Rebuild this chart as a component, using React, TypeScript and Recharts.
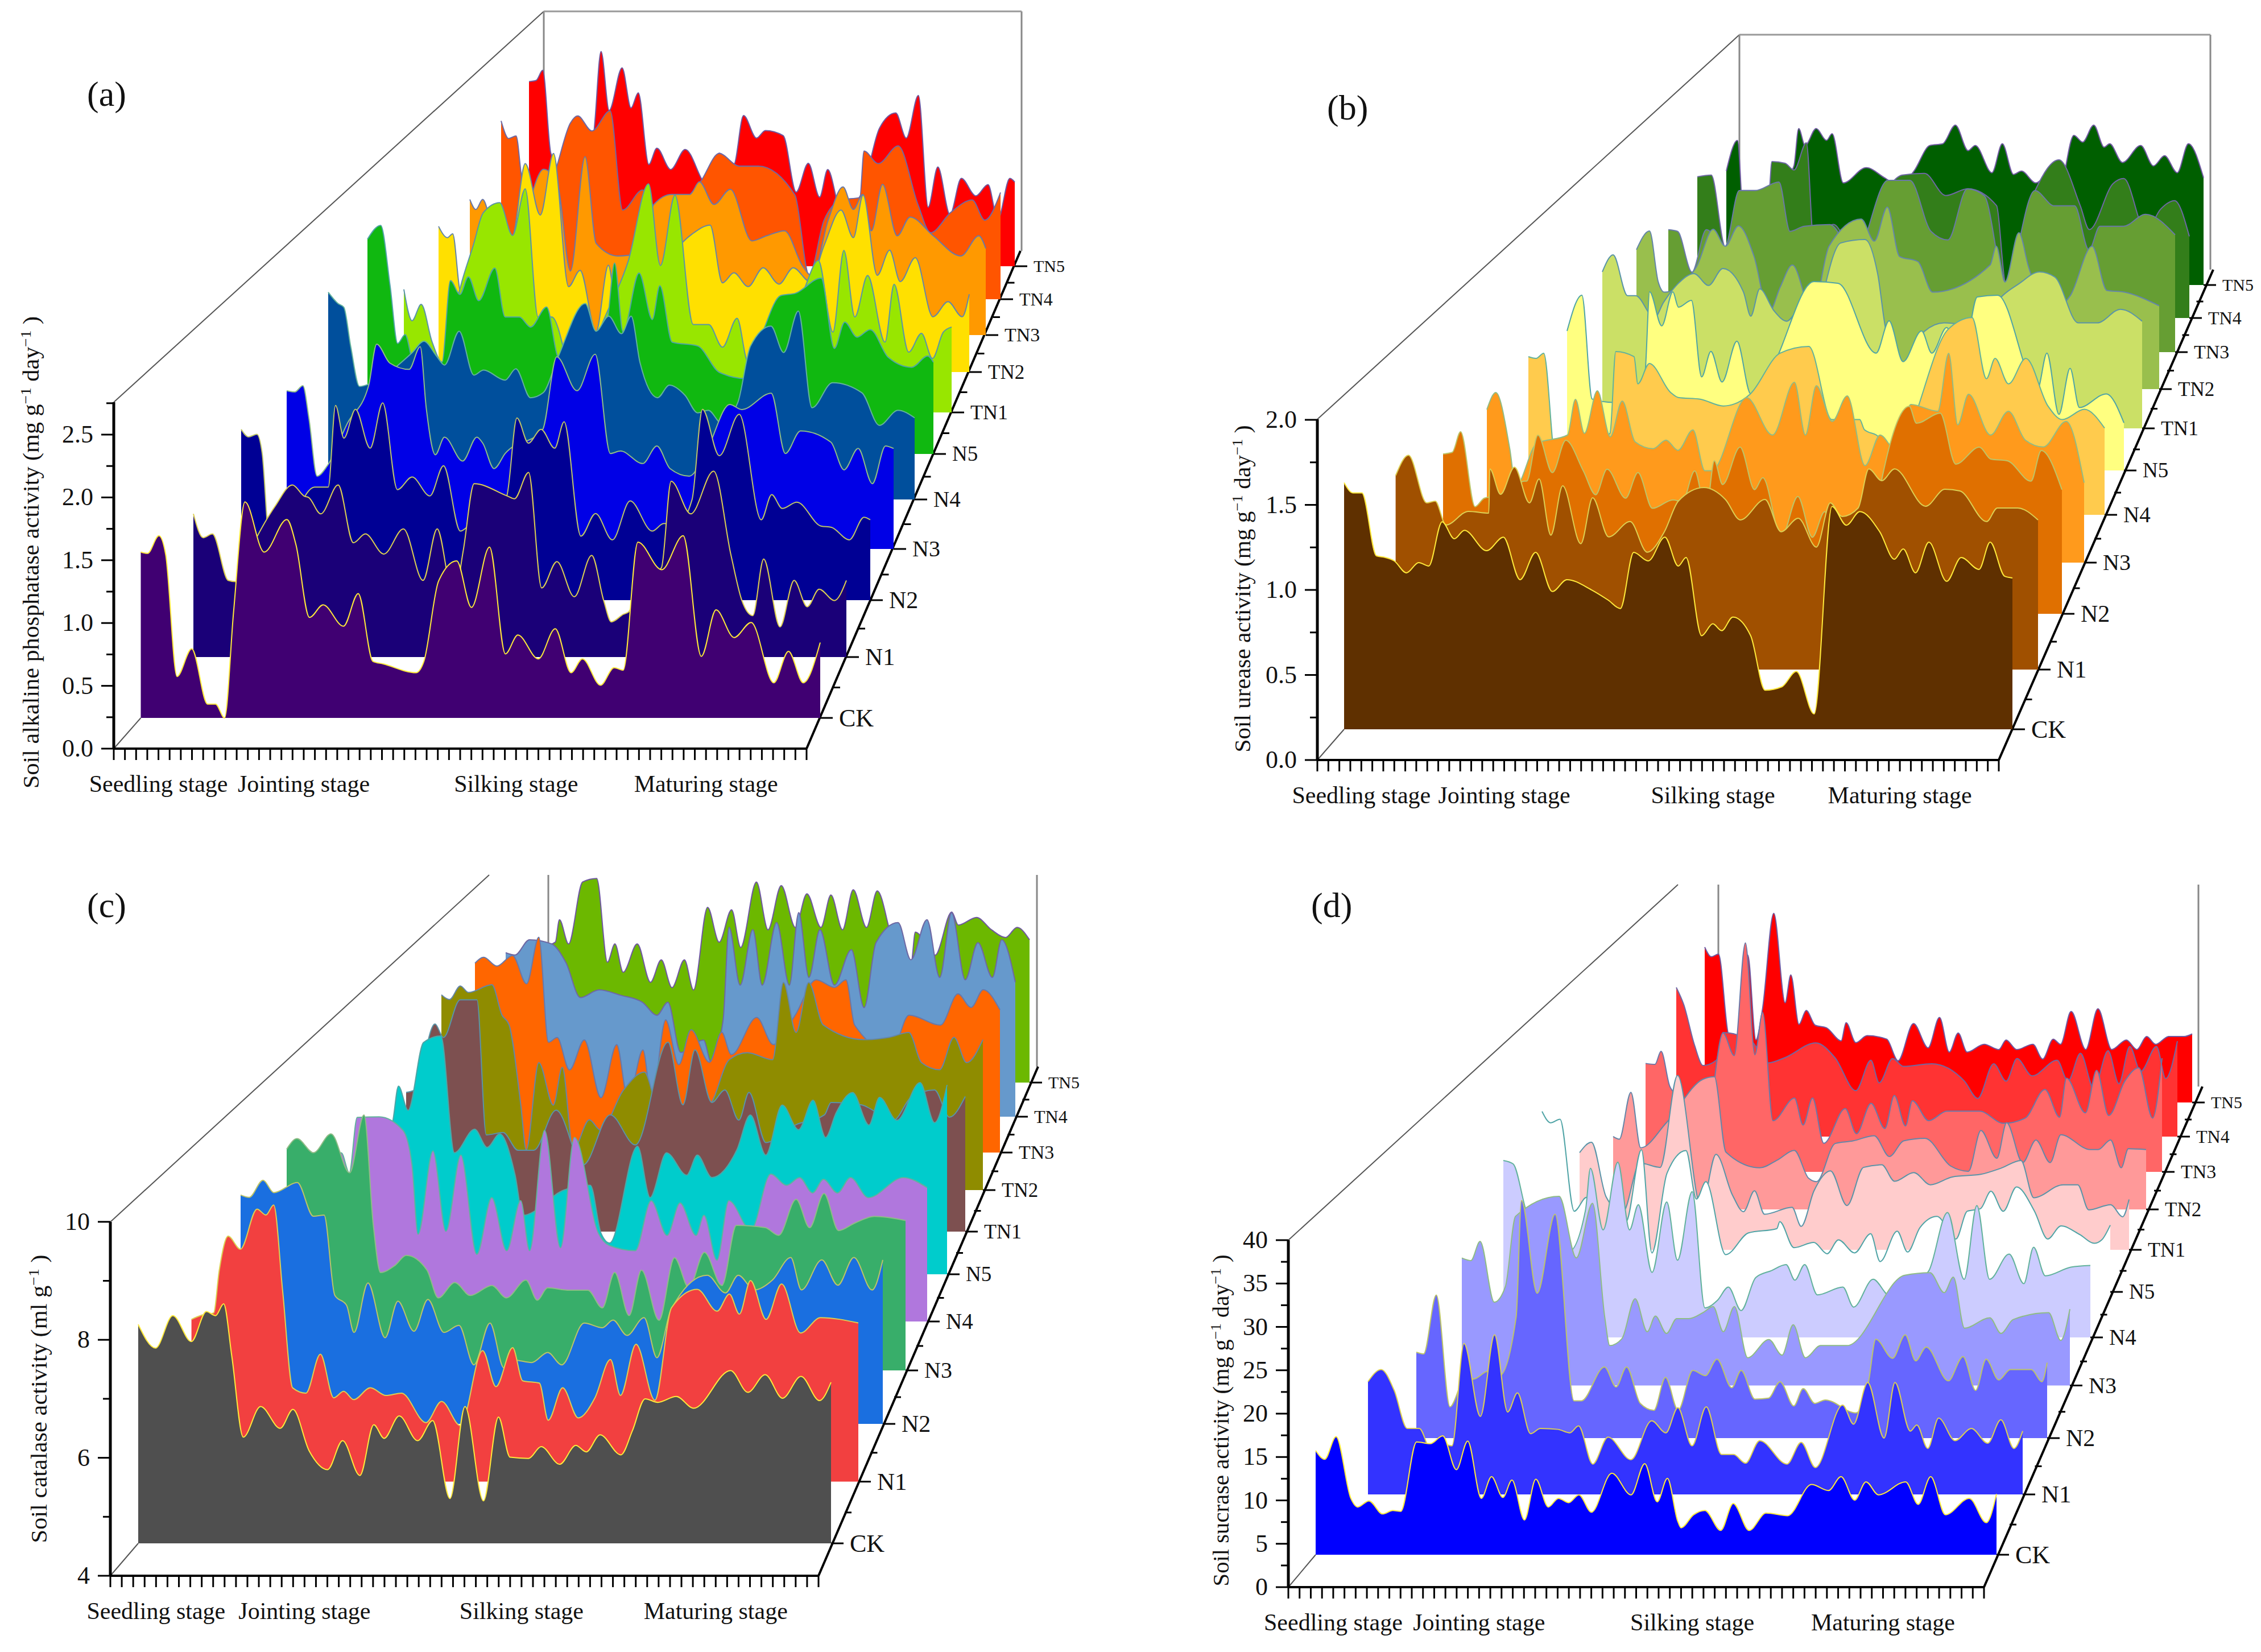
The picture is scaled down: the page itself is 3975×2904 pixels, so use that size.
import { Area, ComposedChart, ReferenceLine, XAxis, YAxis } from 'recharts'

const SERIES = ['CK', 'N1', 'N2', 'N3', 'N4', 'N5', 'TN1', 'TN2', 'TN3', 'TN4', 'TN5']
const STAGES: Record<number, string> = { 4: 'Seedling stage', 17: 'Jointing stage', 36: 'Silking stage', 53: 'Maturing stage' }
const TICK_COUNT = 62
const SERIF = '"Liberation Serif", "Times New Roman", serif'

// [day, value], one list per treatment
const aCK = [[0,1.32],[.6,1.31],[1.6,1.45],[2.2,1.3],[3.2,.33],[4.5,.55],[5.9,.11],[6.6,.11],[7.4,0],[8.2,.85],[9.2,1.72],[10.9,1.32],[12.9,1.58],[13.7,1.38],[14.9,.8],[16.1,.9],[17.9,.73],[19.2,.99],[20.5,.45],[21.4,.43],[24.3,.36],[25,.45],[26.3,1.09],[27.9,1.25],[29.2,.88],[30.8,1.36],[32.2,.51],[33.3,.66],[35.1,.47],[36.6,.71],[38,.36],[39,.47],[40.6,.26],[41.8,.4],[42.6,.38],[43.9,1.4],[46,1.18],[47.9,1.45],[49.5,.49],[50.8,.86],[52.4,.64],[53.9,.76],[55.9,.28],[57.2,.53],[58.5,.28],[60,.6]]
const aN1 = [[0,1.14],[.9,.95],[1.75,.98],[3.2,.61],[3.9,.6],[5.5,.9],[7.5,1.2],[9.1,1.37],[10.2,1.28],[10.6,1.27],[11.7,1.14],[13.3,1.37],[14.7,.91],[15.8,.98],[17.5,.82],[19.3,1.02],[21.1,.61],[22.4,1.02],[23.3,.67],[23.8,.4],[24.8,.85],[25.8,1.38],[28.9,1.28],[29.5,1.26],[30.8,1.47],[32,.55],[33.4,.76],[35,.48],[36.6,.81],[37.7,.45],[38.4,.28],[39.5,.34],[40,.36],[41,.6],[43,.71],[43.9,1.4],[45.7,1.14],[47.8,1.48],[49.4,.81],[50.4,.45],[51.4,.33],[52.4,.78],[53.9,.24],[55.2,.61],[56.4,.4],[57.5,.54],[58.9,.45],[60,.61]]
const aN2 = [[0,1.36],[.7,1.3],[1.5,1.32],[2,1.17],[2.7,.48],[4.5,.6],[7,.9],[8.3,.9],[9,1.55],[9.8,1.29],[10.9,1.52],[12.3,1.21],[13.5,1.57],[14.9,.88],[16.3,.98],[18,.83],[19.3,1.07],[20.9,.55],[21.8,.6],[23.5,.7],[25.3,.82],[26.3,1.45],[27.4,1.25],[28.6,1.36],[29.9,1.21],[30.8,1.42],[32.4,.51],[33.8,.69],[35.4,.48],[37.1,.79],[39.2,.55],[40.3,.61],[41.6,.6],[43,.8],[44,1.52],[45.6,1.15],[47.5,1.48],[49.6,.64],[50.6,.84],[51.6,.73],[53,.78],[55.3,.59],[56.3,.58],[58,.48],[59.4,.66],[60,.64]]
const aN3 = [[0,1.26],[.8,1.25],[1.6,1.3],[2.2,1.04],[3,.58],[4,.66],[6,1],[8.1,1.3],[8.9,1.63],[10.2,1.48],[12.1,1.43],[13.2,1.61],[13.8,1.12],[14.7,.75],[15.6,.89],[17.4,.7],[18.8,.89],[19.4,.84],[20.5,.64],[21.6,.76],[25.3,.95],[26.7,1.53],[28.7,1.26],[30.5,1.55],[32,.76],[33,.78],[35.2,.68],[36.6,.82],[37.9,.64],[39.8,.58],[41.6,.8],[43.8,1.15],[45,1.11],[47.9,1.24],[49.3,.76],[50.8,.94],[53.8,.85],[55.1,.63],[56.5,.8],[57.9,.52],[59.2,.82],[60,.8]]
const aN4 = [[0,1.65],[1,1.56],[1.6,1.53],[2.3,1.22],[3.2,.9],[4.2,.92],[6,1],[8.6,1.17],[9.8,1.26],[11.1,1.14],[11.9,1.07],[13.4,1.34],[14.9,.99],[15.9,1.03],[18.1,.95],[19.2,1.04],[20.7,.81],[22,.85],[23.5,1.13],[26.3,1.56],[27.4,1.34],[28.7,1.46],[30,1.32],[31,1.46],[31.9,1.09],[33.7,.81],[34.9,.91],[36.5,.83],[37.8,.69],[38.9,.71],[40.2,.61],[41.9,.77],[43.2,1.22],[45.3,1.38],[46.6,1.17],[48.1,1.5],[49.5,.73],[51.6,.93],[54.6,.85],[56.4,.59],[58.3,.71],[60,.65]]
const aN5 = [[0,1.71],[1.4,1.82],[2.4,1.34],[3.2,.88],[4,.95],[4.9,.73],[6.3,.73],[7.9,.73],[8.8,1.38],[9.8,1.27],[10.7,1.41],[11.8,1.22],[13.5,1.48],[14.6,1.09],[16.1,1.09],[17.3,1.01],[19,1.17],[20.2,.77],[22.3,.65],[25.4,1.05],[26.2,1.52],[27.1,.97],[28.8,1.44],[30.2,1.07],[31,1.34],[32.3,.89],[35,.86],[37.3,.65],[40.1,.6],[41.9,.97],[43.8,1.26],[45.4,1.28],[48.1,1.4],[49.5,.84],[50.6,1.05],[51.9,.93],[53.3,.99],[55.2,.77],[57.7,.69],[59.4,.78],[60,.73]]
const aTN1 = [[0,.98],[.9,.73],[1.9,.86],[3.1,.56],[4.2,.4],[5.3,.72],[6.2,1],[7.6,1.33],[8.7,1.59],[10.5,1.67],[11.9,1.41],[13.3,1.78],[14.7,.76],[16.2,.76],[19,.19],[21.8,.72],[24.6,1.21],[26.8,1.82],[28.1,1.17],[29.7,1.73],[31.7,.7],[33.4,.7],[34.9,.52],[36.5,.75],[37.7,.4],[40.4,.64],[43.6,.94],[45.4,1.21],[47,.64],[48.2,1.29],[49.4,.76],[50.8,1.09],[52.7,.56],[53.7,1.02],[55.3,.48],[56.7,.63],[57.9,.43],[59.1,.64],[60,.68]]
const aTN2 = [[0,1.16],[1,1.07],[1.6,1.1],[2.5,.64],[6.7,.81],[8.6,1.13],[9.8,1.66],[11.5,1.25],[13,1.74],[14.7,.68],[16,.81],[17.8,.32],[19.2,.85],[20.3,.4],[21.5,.6],[25.2,.85],[28.5,1.09],[30.7,1.17],[32.1,.71],[33.4,.79],[35,.68],[36.7,.83],[38.5,.7],[40.1,.83],[42,.72],[43.6,1.01],[45.5,1.29],[46.9,1.07],[48,1.41],[49.6,.77],[51,.97],[52.2,.72],[53.9,.91],[55.9,.44],[57.6,.56],[59.2,.44],[60,.62]]
const aTN3 = [[0,1.08],[.7,1],[1.5,1.08],[2.4,.92],[5,.71],[8.6,1.32],[10.2,1.2],[11.7,.51],[13.4,1.42],[14.7,.73],[17.2,.63],[19.7,.65],[21.4,1.04],[23.5,1.12],[25.6,1.12],[26.7,1.22],[28.4,1.04],[30.3,1.16],[32.8,.75],[34.5,.79],[36.6,.83],[38.7,.55],[39.8,.47],[41.7,.92],[43.4,1.18],[44.6,1],[45.7,1.12],[46.7,.83],[48,1.2],[49.7,.79],[51.2,.94],[53.9,.79],[57.1,.63],[59.2,.79],[60,.69]]
const aTN4 = [[0,1.42],[.9,1.28],[1.8,1.3],[2.5,.96],[4.6,.67],[6.6,1.04],[8.3,1.4],[9.2,1.46],[10.9,1.34],[13.1,1.5],[14.6,.71],[17,.87],[19.2,.59],[21.6,.75],[24,.94],[26.2,1.16],[28.6,1.06],[30.9,1.06],[35.3,.83],[37,.19],[38.8,.63],[40.9,.79],[43.1,.81],[43.6,1.18],[45.3,1.08],[47.7,1.22],[50.1,.75],[51.6,.53],[54,.69],[56.6,.79],[58.1,.63],[60,.85]]
const aTN5 = [[0,1.47],[.9,1.48],[1.7,1.56],[2.7,.9],[4,.77],[4.9,.77],[7.9,1.02],[8.9,1.71],[9.9,1.24],[11.5,1.58],[12.6,1.26],[13.5,1.38],[14.8,.81],[15.8,.94],[17.5,.77],[19.3,.93],[22,.65],[23.5,.9],[25.3,.81],[26.5,1.2],[28.1,1.02],[29.2,1.08],[31.4,1.04],[33,.59],[34.5,.82],[35.9,.55],[36.9,.77],[38.6,.43],[41,.57],[43.3,1.1],[45.3,1.22],[46.6,1.02],[48.1,1.36],[49.3,.47],[50.5,.79],[52,.41],[53.4,.7],[55.2,.56],[56.7,.65],[57.9,.37],[59.4,.7],[60,.67]]

const bCK = [[0,1.45],[.8,1.39],[1.6,1.39],[2.9,1.02],[3.7,1.01],[4.5,.99],[5.6,.92],[6.7,.98],[7.6,.96],[8.8,1.22],[9.9,1.12],[10.8,1.17],[12.8,1.05],[14.3,1.13],[15.8,.88],[17.2,1.04],[18.7,.81],[20,.88],[22.2,.82],[23.7,.76],[24.8,.71],[26,1.04],[27.3,.99],[28.8,1.13],[30,.96],[30.7,1.01],[32.1,.55],[33.1,.62],[33.9,.58],[34.9,.66],[36.5,.55],[37.8,.23],[39.3,.25],[40.6,.34],[42.2,.09],[43.8,1.31],[45.1,1.2],[46.3,1.28],[48.1,1.16],[49.4,1],[50.2,1.06],[51.3,.92],[52.5,1.1],[54.1,.87],[55.4,1.01],[57,.94],[58,1.1],[59.3,.9],[60,.89]]
const bN1 = [[0,1.14],[1.2,1.26],[2.9,.98],[3.7,.99],[4.7,.85],[6.8,.93],[8.7,.92],[8.8,1.18],[9.8,1.03],[11.1,1.19],[12.5,.98],[13.4,1.12],[14.5,.79],[15.6,1.08],[17.3,.74],[18.4,1.01],[19.9,.78],[21.9,.87],[23.5,.69],[25.1,.81],[26.4,.99],[28.8,1.07],[30.8,1],[32.2,.88],[34.5,1],[36,.81],[37.6,.89],[39.3,.72],[40.6,.98],[41.7,.9],[43.2,.95],[44.2,1.18],[45.4,1.11],[46.6,1.18],[49.5,.96],[51.3,1.06],[52.7,1.05],[55.2,.87],[56.2,.95],[58.1,.95],[60,.88]]
const bN2 = [[0,.94],[.9,.95],[1.7,1.07],[3.1,.63],[4,.68],[6,.7],[7.9,.78],[8.1,.78],[9.2,1.05],[10.6,.83],[11.9,1.02],[13.6,.84],[14.8,.7],[15.9,.85],[17.7,.68],[18.9,.83],[20.3,.62],[22.3,.67],[23.2,.66],[24.4,.84],[25.5,.6],[26.3,.9],[27.1,.76],[28.8,.98],[30.2,.73],[31,.8],[32.8,.45],[34.4,.69],[35.8,.45],[37,.6],[38.1,.44],[40,.6],[41.8,.55],[42.5,.78],[45.2,1.22],[45.9,1.12],[48.2,1.18],[49.7,.88],[52,.98],[53.1,.91],[54.7,.9],[57,.78],[58,.96],[60,.73]]
const bN3 = [[0,.9],[.9,1],[2.3,.67],[2.9,.45],[5,.7],[8.1,.75],[8.9,.96],[9.8,.76],[11.1,1.01],[12.4,.74],[13.6,.95],[14.9,.71],[16.7,.67],[18,.72],[19.2,.66],[20.7,.78],[21.9,.54],[22.6,.54],[26.1,.97],[28.7,.75],[30.9,1.06],[32,.75],[33.1,1.04],[34.7,.83],[36.2,.98],[38,.57],[39.5,.75],[41.1,.66],[42.6,.93],[45.3,.89],[46.4,1.23],[47.3,.81],[48.4,.99],[50.6,.75],[52.4,.89],[54.1,.72],[55.9,.68],[58.2,.83],[60,.47]]
const bN4 = [[0,.93],[.8,.92],[1.6,.95],[2.9,.29],[5,.38],[8.5,.48],[9.1,.96],[11,.93],[11.4,.77],[12.6,.89],[14.8,.72],[15.6,.69],[17.9,.68],[20.3,.64],[23.1,.71],[26.2,.95],[29.2,.99],[31.6,.56],[34.5,.56],[35,.5],[36.2,.47],[38.2,.38],[43.7,1.09],[46.2,1.16],[47.7,.8],[48.6,.92],[50,.77],[51.8,.92],[54.1,.64],[55.6,.56],[57.9,.62],[60,.51]]
const bN5 = [[0,.82],[1.6,1.03],[2.7,.42],[5,.4],[8,.5],[8.4,.57],[8.9,1.05],[10.2,.85],[11.4,1.05],[12,.96],[13.4,1],[14.5,.55],[15.5,.7],[16.7,.52],[18.3,.76],[19.8,.45],[22,.6],[26.6,1.11],[29.2,1.1],[33.3,.69],[34.7,.88],[36.2,.64],[38.2,.82],[39.3,.69],[40.9,.84],[42.5,.6],[44.2,1.02],[46.4,1.03],[50.7,.48],[51.7,.69],[53,.33],[54.2,.6],[55.2,.37],[58.1,.45],[60,.28]]
const bTN1 = [[0,.92],[1.2,1.02],[2.8,.78],[3.7,.78],[5.8,.65],[6.8,.74],[8.4,.85],[10.2,.91],[11.8,.84],[13.4,.94],[15.7,.8],[16.5,.66],[17.5,.82],[19.1,.69],[20.5,.63],[22.1,.71],[22.7,.53],[26.5,1.09],[29.2,1.11],[30.6,.91],[31.6,.56],[33.6,.39],[35.8,.57],[38,.62],[42,.6],[44.3,.77],[46.3,.85],[48.6,.92],[50.3,.89],[52.9,.62],[55,.62],[57.6,.7],[60,.63]]
const bTN2 = [[0,.82],[1.5,.93],[2.5,.63],[3.2,.57],[6.9,.72],[8.8,.94],[10.2,.84],[11.7,.96],[13.5,.78],[15.2,.45],[16.5,.6],[17.9,.73],[20.2,.45],[22.1,.84],[25.8,1],[27.3,.87],[28.8,1.07],[30.2,.78],[32.3,.75],[34,.57],[40.6,.73],[41.3,.84],[42.3,.63],[43.9,.92],[45,.72],[47.3,.46],[49.8,.55],[52.3,.84],[54,.58],[56,.57],[60,.49]]
const bTN3 = [[0,.72],[1.1,.71],[2.8,.47],[4.5,.72],[6.7,.62],[8.4,.95],[10.3,.95],[13.1,1],[14.4,.71],[16.1,.74],[19.1,.75],[22.1,.57],[26,1.01],[28.6,1.01],[31.1,.71],[33.1,.66],[35.4,.96],[37.4,.92],[39.9,.4],[43.4,.95],[45.7,.86],[48.1,.86],[49.8,.6],[51.1,.74],[53.9,.74],[56.5,.81],[60,.69]]
const bTN4 = [[0,.83],[1.7,.84],[3.4,.42],[5.3,.75],[7.1,.75],[8.7,.72],[9.1,.92],[10.7,.91],[11.8,.87],[13.3,1.03],[14.2,.45],[16.6,.55],[19.3,.37],[22,.66],[25,.84],[27.7,.85],[30.3,.72],[33,.76],[36.5,.66],[37.6,.21],[41.2,.75],[44.1,.93],[46.7,.66],[47.8,.52],[50.7,.79],[52,.82],[54.7,.51],[56.5,.64],[58.2,.69],[60,.48]]
const bTN5 = [[0,.67],[1.4,.85],[2.3,.28],[8.5,.7],[9.1,.92],[9.9,.82],[11.3,.92],[12.6,.85],[13.3,.89],[14.7,.6],[17.6,.69],[19.9,.63],[21.8,.58],[23.6,.67],[25.6,.82],[27.2,.83],[28.8,.94],[30.4,.79],[31.3,.82],[33.4,.66],[34.7,.83],[36.1,.65],[37.1,.67],[38.9,.6],[40.9,.67],[41.8,.55],[43.7,.88],[44.8,.84],[46.2,.94],[47.5,.81],[48.2,.83],[49.8,.72],[52.1,.82],[53.7,.7],[55.1,.76],[56.7,.66],[58.1,.83],[60,.63]]

const cCK = [[0,7.71],[1.5,7.31],[3,7.86],[4.6,7.42],[5.9,7.93],[6.7,7.86],[7.4,8.06],[8.1,7.18],[9.1,5.8],[10.6,6.32],[12.3,5.95],[13.4,6.27],[14.8,5.57],[16.4,5.25],[17.7,5.74],[19.2,5.15],[20.4,6.01],[21.3,5.78],[22.6,6.16],[24.2,5.74],[25.5,6.08],[27,4.76],[28.3,6.32],[29.9,4.72],[31.2,6.14],[32.2,5.46],[33.8,5.44],[34.9,5.64],[36.5,5.34],[37.9,5.66],[38.8,5.55],[40,5.84],[41.8,5.5],[42.8,5.91],[43.9,6.45],[45,6.39],[46.6,6.49],[48.1,6.29],[51.3,6.93],[52.8,6.56],[54.3,6.86],[55.8,6.46],[57.4,6.83],[59,6.42],[60,6.73]]
const cN1 = [[0,6.75],[.9,6.82],[2,6.86],[2.5,7.58],[3.3,8.16],[4.4,7.94],[5.9,8.62],[6.7,8.52],[7.4,8.69],[8.2,7.24],[9.1,5.59],[10.3,5.5],[11.6,6.16],[12.8,5.42],[13.7,5.53],[14.6,5.39],[16.1,5.59],[17.5,5.46],[18.9,5.5],[21.1,5],[22.5,5.36],[24.2,4.95],[26.2,6.22],[27.4,5.61],[28.9,6.27],[29.8,5.71],[31.3,5.67],[32.1,5.04],[33.4,5.59],[34.8,5.08],[36.3,5.42],[37.7,6.07],[38.6,5.46],[40,6.33],[41.7,5.38],[43.2,6.95],[45.5,7.26],[47.3,6.89],[48.4,7.18],[49.3,6.84],[50.3,7.41],[51.7,6.75],[53.1,7.35],[54.8,6.52],[56.6,6.78],[60,6.69]]
const cN2 = [[0,7.88],[.8,7.84],[2.1,8.13],[3.1,7.92],[5.3,8.09],[6.8,7.52],[7.8,7.54],[8.8,6.18],[9.9,6.01],[10.6,5.55],[11.9,6.39],[13.5,5.46],[14.7,6.08],[16.2,5.57],[17.5,6.11],[19,5.55],[20.4,5.67],[21.8,5],[23.3,5.71],[24.6,4.95],[25.6,5.08],[27.2,5.04],[28.7,5.21],[30,5],[32.1,5.71],[33.8,5.63],[34.8,5.76],[36.1,5.5],[37.7,5.8],[38.9,5.12],[40.2,5.93],[43.6,6.52],[45.3,6.22],[46.5,6.52],[48,6.27],[49.7,6.44],[51.4,6.82],[52.4,6.27],[54.3,6.78],[55.8,6.35],[57.3,6.82],[59,6.27],[60,6.78]]
const cN3 = [[0,7.75],[1,7.93],[2.6,7.69],[4.3,8.01],[6.1,7.35],[7.5,8.33],[8.4,6.46],[9.1,5.66],[10.5,5.78],[11.6,5.95],[13.6,5.7],[14.7,5.23],[16.3,5.49],[17.8,5.27],[19.9,5.44],[21.3,5.23],[23.2,5.53],[24.3,5.19],[25.3,5.4],[27.4,5.36],[29.2,5.36],[30.6,5.06],[31.8,5.66],[33.2,4.93],[34.4,5.7],[36.1,4.85],[37.6,5.91],[39,5.4],[40.5,6],[42.2,5.44],[43.6,6.46],[46.4,6.42],[47.7,6.29],[49.4,6.9],[50.7,6.42],[52.1,7],[53.5,6.37],[55.1,6.5],[57,6.61],[60,6.54]]
const cN4 = [[0,6.7],[1.2,6.86],[2,6.52],[2.8,7.46],[5,7.47],[7.4,7.24],[8.3,6.65],[8.9,5.48],[10.4,6.89],[11.7,5.53],[13.2,6.82],[14.8,5.14],[16.3,6.1],[17.8,5.2],[19.2,6.05],[20.1,5.2],[21.6,7.24],[23.2,5.25],[24.6,7.12],[27,5.5],[28.1,5.29],[30.7,5.2],[32.3,6.05],[33.9,5.46],[35.2,6.01],[36.8,5.46],[37.6,5.8],[38.9,5.04],[40.1,6.05],[42.3,5.55],[44.3,6.5],[45.9,6.31],[47.2,6.44],[48.5,6.18],[49.6,6.41],[51,6.18],[52.3,6.44],[54.1,6.1],[57.6,6.44],[60,6.27]]
const cN5 = [[0,6.3],[2.4,6.53],[3.1,7.19],[4.1,6.78],[5.7,7.93],[7.5,8.04],[8.9,6.06],[11,6.46],[12.3,6.15],[13.6,6.38],[15.2,5.68],[16,5],[20.3,5.43],[23,5.51],[24.1,4.7],[25,4.53],[27.9,6.17],[29.2,5.3],[30.9,6.06],[33,5.68],[34.1,6.02],[35.6,5.64],[38.2,6.11],[39.6,6.7],[41.2,6.02],[42.9,6.87],[44.6,6.45],[46.1,6.95],[47.4,6.32],[48.5,6.74],[50.2,7.08],[51.9,6.53],[53,7],[54.8,6.61],[57.2,7.25],[58.7,6.57],[60,7.21]]
const cTN1 = [[0,6.36],[.9,6.4],[3.1,7.52],[4,7.29],[5.8,7.93],[7.6,7.93],[8.6,5.64],[10.4,5.68],[12,5.38],[13.7,5.38],[16.1,6.06],[19,5.13],[21.9,5.98],[24.6,5.47],[28.1,7.21],[29.7,6.15],[31,7.08],[32.8,6.19],[34.2,6.4],[35.7,5.89],[36.8,6.36],[38.6,5.51],[41.8,5.81],[44.9,5.98],[45.6,6.19],[48.8,6.15],[52.3,5.89],[54.2,6.28],[56.7,6.4],[58.3,5.94],[60,6.29]]
const cTN2 = [[0,7.31],[.9,7.23],[2.1,7.46],[3,7.35],[5.6,7.48],[6.7,6.97],[7.5,6.8],[8.8,5.44],[9.4,4.68],[10.8,6.16],[12.4,5.44],[13.4,6.08],[14.6,4.68],[16.4,5.19],[17.6,5.02],[20.2,5.7],[22.5,6],[23.9,5.44],[26.7,5.27],[29.7,5.44],[31.9,6.21],[33.9,6.33],[36.7,6.21],[37.9,7.52],[39.3,6.67],[40.7,7.52],[42.3,6.8],[46.8,6.55],[49.6,6.59],[51.8,6.67],[53.2,6.16],[55.2,6.04],[56.8,6.59],[58.2,6.16],[60,6.55]]
const cTN3 = [[0,7.21],[1,7.31],[2.5,7.16],[4.3,7.34],[5.9,6.86],[7.3,7.65],[8.4,5.87],[9.4,5.95],[10.8,5.4],[12.5,5.91],[14.4,4.93],[16.2,5.83],[17.5,4.89],[19.2,5.74],[20.2,4.89],[21.8,6.25],[23.3,5.49],[24.7,6.08],[26.8,5.53],[28.2,6.04],[29.3,5.66],[32.2,6.29],[34.1,5.83],[36.6,6.33],[39,6.93],[41.1,6.8],[42.4,6.93],[43.4,6.16],[47.6,5.7],[49.6,6.33],[53.2,6.16],[55.2,6.69],[56.7,6.46],[58.1,6.76],[60,6.42]]
const cTN4 = [[0,6.78],[1.1,6.74],[2.8,7],[5.4,6.93],[7.1,6.61],[8.8,6.02],[11,6.15],[13.5,6.06],[16.1,5.94],[17.8,5.72],[19.1,5.94],[20.6,5.09],[23.3,5.3],[24.2,4.92],[25.6,5.64],[26.3,7.21],[27.6,6.23],[29.1,7.17],[30.2,6.23],[31.9,7.29],[33.4,6.23],[34.5,7.46],[35.7,6.36],[37,7.17],[38.7,6.23],[40.7,6.83],[42.2,5.85],[43.6,6.95],[46.2,7.29],[47.7,6.66],[49.6,7.34],[51.1,6.36],[52.5,7.46],[54.1,6.32],[55.6,6.95],[57.3,6.36],[58.4,7],[60,6.28]]
const cTN5 = [[0,6.25],[2.7,6.38],[3.2,6.76],[4.3,6.35],[6,7.4],[7.7,7.46],[9,6.04],[9.9,6.35],[10.9,5.87],[12.6,6.35],[14.2,5.7],[15.5,6.08],[16.8,5.61],[18.3,6.08],[19.4,5.57],[21.1,6.97],[22.5,6.38],[24,6.93],[25.1,6.29],[27,7.4],[28.4,6.59],[30,7.34],[31.7,6.63],[33.1,7.2],[34.8,6.63],[36,7.18],[37.4,6.59],[38.7,7.27],[40.3,6.63],[41.6,7.25],[43.6,6.38],[44.9,6.25],[45.7,6.04],[46.2,6.55],[48.6,6.16],[50.6,6.89],[51.4,6.67],[53.6,6.8],[55.4,6.59],[57.1,6.46],[58.5,6.63],[60,6.42]]

const dCK = [[0,12],[.8,11],[1.8,13.6],[3.1,6.5],[3.7,5.5],[4.7,6.2],[5.9,4.7],[6.8,5.1],[7.5,5],[8.9,13],[10.1,12.8],[11.2,13.7],[12.4,9.8],[13.4,13.1],[14.6,6.5],[15.5,9],[16.5,6.6],[17.3,8.6],[18.4,4],[19.4,8.7],[20.5,5.5],[21.4,6.5],[22.3,6],[23.2,6.9],[24.3,4.9],[26.1,9.4],[27.8,6.9],[29,10.5],[30.1,6.1],[31,8.8],[31.9,3.9],[32.2,3.1],[33.3,4.6],[34.3,5.1],[35.7,2.8],[36.8,5.9],[38.2,2.8],[39.7,4.8],[41.6,4.5],[43.7,8.1],[45.2,7.4],[46.3,9],[47.5,6.3],[48.5,8.4],[49.6,6.9],[52,8.4],[53.1,5.8],[54.2,9],[55.5,4.6],[57.6,6.5],[59.1,3.7],[60,7]]
const dN1 = [[0,13],[1.2,14.4],[2.4,12],[3.6,7.6],[4.7,7.6],[5.9,4.7],[6.7,5.9],[7.7,5.6],[8.8,17.4],[10.3,9],[11.6,18.4],[12.8,9.5],[13.7,11.7],[14.9,7],[15.8,7.6],[17.4,7.5],[18.5,7.1],[19.3,7.9],[20.6,3.5],[22,6.6],[24.1,4],[26,8.5],[27.3,7.1],[28.4,10],[29.7,5.6],[31,10.1],[32.4,4.6],[33.5,4.6],[34.6,3.6],[35.9,6.2],[38.4,3.5],[39.7,6],[41,3.1],[43.5,10.3],[44.5,8.1],[45.8,12.9],[47.3,6.5],[48.3,12.9],[49.7,7.3],[50.3,8],[51.3,5.3],[52.3,8.8],[53.8,6.2],[55.3,7.6],[56.8,5.9],[58,8.6],[59.2,5.3],[60,7.3]]
const dN2 = [[0,9.9],[.7,9.7],[1.9,16.5],[3.2,3.6],[4.5,6.6],[5.7,6.9],[6.8,7.7],[7.9,7.2],[9.5,14],[10,27.4],[11.5,16.7],[13.2,25.8],[15,4.3],[15.7,4.3],[17.9,8.2],[19,5.9],[20,8.2],[21.3,4],[22.6,3.2],[23.7,7],[24.9,3.2],[26.3,7.8],[27.5,7.2],[28.6,9.1],[30,5.8],[30.9,7.8],[32.2,4.5],[33.5,4.6],[34.6,6.5],[35.9,3.7],[36.8,5.7],[37.9,4],[38.9,4.4],[41.8,2.9],[43,6.4],[43.7,11.4],[45.3,9.2],[46.5,11.9],[47.5,8.9],[48.5,10.5],[50.6,6.6],[52,9.4],[53.2,5.5],[54.2,9.1],[55.4,6.7],[56.5,7.9],[58.5,7.9],[59.5,6.5],[60,8.7]]
const dN3 = [[0,14.7],[.9,14.4],[1.8,16.6],[3.2,9.6],[4.3,11.4],[5.3,19.5],[9.6,21.8],[11.3,14.7],[12.9,21],[14.1,7.9],[14.6,4.6],[15.8,5.4],[17.1,10],[18.3,6.2],[19.1,8],[20.2,6],[21.2,7.7],[22.4,7.7],[23.8,8.4],[24.8,9.1],[25.8,6.2],[26.9,9.1],[28.2,3.2],[30.3,5.3],[31.6,3.5],[32.7,7],[33.9,3.2],[35.4,4.6],[38,4.6],[43.7,12.7],[46.2,13],[47.6,10.7],[48.5,12.5],[49.6,6.6],[52.1,7.8],[53.2,6],[54.4,7.6],[57.9,8.4],[59.1,5.2],[60,8.8]]
const dN4 = [[0,20.4],[1,20],[2.2,15.1],[3.5,9.6],[4.7,13.9],[6.7,9.9],[8.4,14.7],[8.9,19.5],[10.2,12.4],[11.7,20.2],[12.9,12.4],[13.8,15.3],[15.2,7.5],[16.7,15.6],[17.8,8.9],[19.3,16.8],[20.6,3.4],[21.9,4.3],[23,5.8],[24.3,3.1],[25.8,6.9],[27.4,7.7],[28.9,8.4],[29.8,6.6],[30.8,8.4],[32.1,4.9],[34.7,5.8],[35.8,3.5],[37.8,6.7],[39.5,4.8],[41,7.1],[42.6,6.8],[43.5,7.7],[45.4,14.4],[47.1,6.7],[48.4,15.2],[49.7,6.7],[51.7,9.6],[53.2,6.2],[54.2,10.4],[55.4,7.1],[58,8.1],[60,8.3]]
const dN5 = [[0,20.8],[.9,19.5],[1.9,19.9],[3.4,9.3],[4.7,10.9],[6.2,7.1],[8.9,8.1],[10.5,16.4],[11.6,4.5],[13.2,13.7],[15.2,16.3],[16.3,10.7],[17.3,12.7],[19.4,4.3],[21.8,6.8],[24.8,7.3],[25.1,8.1],[26.6,5.1],[28.7,5.7],[30.1,4.4],[31.3,6],[33,4.5],[34.7,6.7],[35.7,3.5],[37.5,7],[38.6,4.6],[39.9,7.4],[41.7,8.7],[43.7,6.1],[44.9,9.3],[46.3,9.6],[47.4,11.6],[48.7,9.3],[50.1,12.1],[52,9.3],[53.4,6.1],[54.8,7.6],[56.8,6.6],[58.3,5.6],[59.1,6],[60,7.7]]
const dTN1 = [[0,11.2],[1.3,12.4],[2.9,6.1],[4.7,4.3],[6.6,10],[8.8,9.5],[10.7,20.1],[13.3,4.9],[14.9,11],[16.7,6.3],[17.9,4.4],[19.1,6.8],[20.2,4.1],[23.2,4.9],[24.2,2.7],[25.6,6.8],[27.4,9.1],[29.2,5.1],[31,9.5],[33,9.8],[34.4,7.9],[36.5,8.9],[38.3,7.5],[40.7,8.4],[43.8,8.7],[46,9.4],[48.2,10.3],[49.6,6],[52.8,7.5],[54.4,7.5],[55.6,4.6],[58,5.2],[59.3,3.8],[60,5.8]]
const dTN2 = [[0,8.4],[.7,8.1],[2,13.5],[3.1,7.1],[6,10],[10.1,15],[11.4,15.3],[12.7,6.6],[16.5,4.8],[18.5,5.7],[20.4,6.8],[22,3.6],[22.9,3.2],[25,7.6],[27,7.9],[29.4,8.5],[31.1,6.1],[32.7,7.9],[35.1,8.2],[38,5],[40,4.4],[41.4,9.1],[43.2,5.9],[44.3,10],[46.1,5.4],[47.6,8],[49.2,5.4],[50.4,8.6],[53.7,6.9],[54.6,6.9],[56,8],[57.2,4.8],[58,7],[60,6.9]]
const dTN3 = [[0,12.5],[1.1,12.4],[1.8,13.9],[2.8,9.9],[3.7,8.8],[7,5],[9,16],[10.3,13.4],[11.6,26.4],[12.7,13.5],[13.6,18.4],[14.8,5.9],[17.3,8.5],[18.3,5.4],[19.4,8.5],[20.7,3.3],[23.2,7.3],[24.5,4.4],[26.2,7.9],[27.8,5],[28.9,8.8],[30.2,5.3],[31,8.2],[32.9,5.9],[35,7],[38.8,7],[41.6,5.6],[44.1,6.2],[46.4,9.5],[48.1,6.3],[48.9,10.8],[51.1,6.8],[52.4,11.7],[53.8,6.5],[55.7,10.5],[57.3,12],[58.9,6.2],[60,13.1]]
const dTN4 = [[0,17.2],[.9,15.2],[2.2,10.5],[3.2,8.2],[4.8,8.8],[5.6,12],[9,11],[11,8.5],[13,9.1],[16.7,10.8],[19,9.1],[21.5,5.3],[23.3,8.8],[24.3,6.2],[25.9,9],[27.2,8.1],[30.6,8.4],[34.5,6.4],[36.1,4.4],[38,8.4],[39.5,6.4],[40.8,9],[42.6,7],[45.6,8.8],[46.9,6.4],[48.4,9.6],[50,5.5],[51.7,9.9],[53,6.1],[54.3,10.4],[55.6,7.5],[57.5,10.4],[58.6,6.7],[60,11]]
const dTN5 = [[0,17.9],[.8,16.8],[1.7,17.1],[3,7.8],[4.2,7.8],[5.3,17],[6.3,7.2],[7.1,10.7],[8.5,21.8],[9.9,11.5],[10.6,14.7],[11.6,9],[12.5,10.6],[13.6,8.9],[15,8.6],[16.8,7.1],[17.4,9.2],[18.6,6.9],[20,7.7],[22.4,7.3],[23.8,4.8],[25.7,9.1],[27.5,6.3],[28.9,9.8],[30.1,5.8],[31.2,8],[32.3,5.8],[34.4,6.7],[36.2,6.1],[37.1,7.2],[38.4,6.1],[40.4,6.7],[41.6,5],[42.9,7.3],[43.8,6.7],[45.1,10.5],[46.9,6.1],[48.4,10.8],[50.1,6.1],[51.9,7.2],[53.2,6.1],[54.4,7.6],[55.5,6.7],[57.1,7.6],[59,7.6],[60,7.9]]

const STROKES = ['#ffe93a', '#dccf52', '#bcc468', '#8fbc86', '#62b29c', '#50a4a6', '#5a94a8', '#6486a8', '#6a78a8', '#6e68a4', '#6f58a0']

const PANELS = [
  {
    letter: '(a)', letterX: 153, letterY: 186,
    title: 'Soil alkaline phosphatase activity (', unitText: [['mg g', '−1'], [' day', '−1']], titleX: 68, titleY: 971, titleLen: 830,
    boxLeft: 0, axisX: 200, plotTop: 10, axisBottom: 1316, plotRight: 1990, xEnd: 1418, axisTop: 707,
    unit: 220.8, base: 0, major: [0, 0.5, 1, 1.5, 2, 2.5], minor: [0.25, 0.75, 1.25, 1.75, 2.25, 2.75], digits: 1,
    lefts: [247.5, 340, 424, 504, 577, 646, 710, 771, 826, 881, 930],
    rights: [1442, 1488, 1530, 1571, 1608, 1641, 1673, 1704, 1733, 1759, 1784],
    floors: [1262, 1155, 1055, 965, 878, 798, 725, 654, 589, 526, 468],
    colors: ['#400072', '#1a0078', '#000094', '#0000e6', '#004f9c', '#10b810', '#98e600', '#ffe000', '#ff9900', '#ff5500', '#ff0000'],
    series: [aCK, aN1, aN2, aN3, aN4, aN5, aTN1, aTN2, aTN3, aTN4, aTN5],
    backX: 956, backRight: 1796, backTop: 20, diagEnd: 956, zTop: [1794, 441], topLine: true,
  },
  {
    letter: '(b)', letterX: 2333, letterY: 210,
    title: 'Soil urease activity (', unitText: [['mg g', '−1'], [' day', '−1']], titleX: 2198, titleY: 1035, titleLen: 575,
    boxLeft: 2030, axisX: 2316, plotTop: 40, axisBottom: 1336, plotRight: 3975, xEnd: 3514, axisTop: 737,
    unit: 299, base: 0, major: [0, 0.5, 1, 1.5, 2], minor: [0.25, 0.75, 1.25, 1.75], digits: 1,
    lefts: [2363, 2453.6, 2537, 2614, 2687, 2755, 2817, 2877, 2933, 2984, 3035],
    rights: [3538, 3583, 3625, 3664, 3700, 3734, 3766, 3796, 3824, 3849, 3874],
    floors: [1282, 1177, 1079, 989, 905, 827, 753, 684, 619, 559, 501],
    colors: ['#5f3000', '#a05000', '#e07000', '#ff9a1c', '#ffcb4d', '#ffff80', '#cbe066', '#99bf4d', '#669e33', '#337e1a', '#005f00'],
    series: [bCK, bN1, bN2, bN3, bN4, bN5, bTN1, bTN2, bTN3, bTN4, bTN5],
    backX: 3058, backRight: 3886, backTop: 61, diagEnd: 3058, zTop: [3891, 474], topLine: true,
  },
  {
    letter: '(c)', letterX: 153, letterY: 1612,
    title: 'Soil catalase activity (', unitText: [['ml g', '−1']], titleX: 82, titleY: 2459, titleLen: 507,
    boxLeft: 0, axisX: 194, plotTop: 1500, axisBottom: 2770, plotRight: 1990, xEnd: 1439, axisTop: 2148,
    unit: 103.7, base: 4, major: [4, 6, 8, 10], minor: [5, 7, 9], digits: 0,
    lefts: [243, 336.6, 423, 504, 579, 648, 714, 776, 835, 889, 937],
    rights: [1461, 1509, 1552, 1592, 1630, 1665, 1697, 1728, 1758, 1785, 1810],
    floors: [2713, 2604.5, 2503, 2409, 2323, 2240, 2165, 2092, 2026, 1963, 1903],
    colors: ['#4f4f4f', '#f24040', '#1a6fe0', '#38ae6a', '#b077dd', '#00cccc', '#7d5050', '#8f8c00', '#ff6600', '#6699cc', '#6cb800'],
    series: [cCK, cN1, cN2, cN3, cN4, cN5, cTN1, cTN2, cTN3, cTN4, cTN5],
    backX: 964, backRight: 1823, backTop: 1538, diagEnd: 860, zTop: [1825, 1875], topLine: false,
  },
  {
    letter: '(d)', letterX: 2305, letterY: 1612,
    title: 'Soil sucrase activity (', unitText: [['mg g', '−1'], [' day', '−1']], titleX: 2160, titleY: 2497, titleLen: 583,
    boxLeft: 2030, axisX: 2265, plotTop: 1500, axisBottom: 2790, plotRight: 3975, xEnd: 3488, axisTop: 2180,
    unit: 15.25, base: 0, major: [0, 5, 10, 15, 20, 25, 30, 35, 40], minor: [2.5, 7.5, 12.5, 17.5, 22.5, 27.5, 32.5, 37.5], digits: 0,
    lefts: [2313, 2405, 2490, 2570, 2643, 2711, 2777, 2836, 2893, 2947, 2997],
    rights: [3510, 3556, 3599, 3639, 3675, 3710, 3743, 3773, 3801, 3828, 3854],
    floors: [2733, 2627, 2528, 2435.5, 2351, 2271, 2197, 2126, 2060, 1998, 1938],
    colors: ['#0000ff', '#3333ff', '#6666ff', '#9999ff', '#ccccff', '#ffffff', '#ffcccc', '#ff9999', '#ff6666', '#ff3333', '#ff0000'],
    series: [dCK, dN1, dN2, dN3, dN4, dN5, dTN1, dTN2, dTN3, dTN4, dTN5],
    backX: 3021, backRight: 3865, backTop: 1555, diagEnd: 2950, zTop: [3872, 1910], topLine: false,
  },
]

const LABEL_SIZES = [44, 43, 42, 40, 39, 37, 36, 35, 34, 32, 30]
const BOTTOM = 110
const LAST_DAY = 60

type PanelSpec = (typeof PANELS)[number]

function Frame({ p }: { p: PanelSpec }) {
  const left = p.axisX - p.boxLeft
  const width = p.plotRight - p.boxLeft
  const height = p.axisBottom - p.plotTop + BOTTOM
  const spacing = (p.xEnd - p.axisX) / TICK_COUNT
  const dayTicks = Array.from({ length: TICK_COUNT + 1 }, (_, i) => i)
  const yTicks = [...p.major, ...p.minor].sort((a, b) => a - b)
  const seg = (x1: number, y1: number, x2: number, y2: number, stroke: string, w: number, key: string) => (
    <ReferenceLine
      key={key}
      xAxisId="page"
      yAxisId="page"
      ifOverflow="visible"
      segment={[{ x: x1, y: y1 }, { x: x2, y: y2 }]}
      stroke={stroke}
      strokeWidth={w}
    />
  )

  return (
    <ComposedChart
      width={width}
      height={height}
      data={dayTicks.map((d) => ({ d }))}
      margin={{ top: 0, right: 0, bottom: 0, left: 0 }}
      style={{ position: 'absolute', left: p.boxLeft, top: p.plotTop }}
    >
      <XAxis
        xAxisId="val"
        type="number"
        dataKey="d"
        allowDataOverflow
        domain={[0, (p.plotRight - p.axisX) / spacing]}
        ticks={dayTicks}
        interval={0}
        height={BOTTOM}
        axisLine={false}
        tickLine={false}
        tickSize={0}
        tickMargin={0}
        tick={({ x, y, payload }: any) => (
          <g>
            <line x1={x} x2={x} y1={y} y2={y + 20} stroke="#000" strokeWidth={3} />
            {STAGES[payload.value] ? (
              <text x={x} y={y + 76} textAnchor="middle" fontFamily={SERIF} fontSize={42} fill="#111">
                {STAGES[payload.value]}
              </text>
            ) : null}
          </g>
        )}
      />
      <YAxis
        yAxisId="val"
        type="number"
        dataKey="d"
        allowDataOverflow
        width={left}
        domain={[p.base, p.base + (p.axisBottom - p.plotTop) / p.unit]}
        ticks={yTicks}
        interval={0}
        axisLine={false}
        tickLine={false}
        tickSize={0}
        tickMargin={0}
        tick={({ x, y, payload }: any) => {
          const isMajor = p.major.includes(payload.value)
          return (
            <g>
              <line x1={x - (isMajor ? 22 : 13)} x2={x} y1={y} y2={y} stroke="#000" strokeWidth={3} />
              {isMajor ? (
                <text x={x - 36} y={y + 14} textAnchor="end" fontFamily={SERIF} fontSize={44} fill="#111">
                  {payload.value.toFixed(p.digits)}
                </text>
              ) : null}
            </g>
          )
        }}
      />
      <XAxis xAxisId="page" type="number" dataKey="d" hide height={0} domain={[p.axisX, p.plotRight]} allowDataOverflow />
      <YAxis yAxisId="page" type="number" hide width={0} reversed domain={[p.plotTop, p.axisBottom]} allowDataOverflow />

      {seg(p.axisX, p.axisTop, p.diagEnd, p.backTop, '#555', 2, 'diag')}
      {seg(p.backX, p.backTop, p.backX, p.floors[10] - 20, '#888', 3, 'backL')}
      {seg(p.backRight, p.backTop, p.backRight, p.zTop[1], '#888', 3, 'backR')}
      {p.topLine ? seg(p.backX, p.backTop, p.backRight, p.backTop, '#999', 3, 'backT') : null}
      {seg(p.axisX, p.axisBottom, p.lefts[0], p.floors[0], '#555', 2, 'corner')}
      {seg(p.axisX, p.axisTop, p.axisX, p.axisBottom, '#000', 5, 'yLine')}
      {seg(p.axisX, p.axisBottom, p.xEnd, p.axisBottom, '#000', 4, 'xLine')}
      {seg(p.xEnd, p.axisBottom, p.zTop[0], p.zTop[1], '#000', 4, 'zLine')}
      {SERIES.map((_, i) => seg(p.rights[i], p.floors[i], p.rights[i] + 22, p.floors[i], '#000', 3, `zt${i}`))}
      {SERIES.slice(1).map((_, i) => {
        const mx = (p.rights[i] + p.rights[i + 1]) / 2
        const my = (p.floors[i] + p.floors[i + 1]) / 2
        return seg(mx, my, mx + 12, my, '#000', 3, `zm${i}`)
      })}

      {SERIES.map((name, i) => (
        <text key={name} x={p.rights[i] - p.boxLeft + 33} y={p.floors[i] - p.plotTop + LABEL_SIZES[i] * 0.33} fontFamily={SERIF} fontSize={LABEL_SIZES[i]} fill="#111">
          {name}
        </text>
      ))}
      <text x={p.letterX - p.boxLeft} y={p.letterY - p.plotTop} fontFamily={SERIF} fontSize={62} fill="#111">
        {p.letter}
      </text>
      <text
        transform={`rotate(-90 ${p.titleX - p.boxLeft} ${p.titleY - p.plotTop})`}
        x={p.titleX - p.boxLeft}
        y={p.titleY - p.plotTop}
        textAnchor="middle"
        fontFamily={SERIF}
        fontSize={40}
        fill="#111"
        textLength={p.titleLen}
        lengthAdjust="spacingAndGlyphs"
      >
        {p.title}
        {p.unitText.map(([word, power]) => (
          <tspan key={word}>
            {word}
            <tspan dy={-14} fontSize={26}>{power}</tspan>
            <tspan dy={14}> </tspan>
          </tspan>
        ))}
        )
      </text>
    </ComposedChart>
  )
}

function Layers({ p }: { p: PanelSpec }) {
  const width = p.plotRight - p.boxLeft
  const height = p.axisBottom - p.plotTop + BOTTOM
  const order = SERIES.map((_, i) => 10 - i)
  return (
    <ComposedChart width={width} height={height} margin={{ top: 0, right: 0, bottom: BOTTOM, left: p.axisX - p.boxLeft }} style={{ position: 'absolute', left: p.boxLeft, top: p.plotTop }}>
      {order.map((k) => {
        const perDay = (p.rights[k] - p.lefts[k]) / LAST_DAY
        const xDomain = [(p.axisX - p.lefts[k]) / perDay, (p.plotRight - p.lefts[k]) / perDay]
        const yDomain = [p.base + (p.floors[k] - p.axisBottom) / p.unit, p.base + (p.floors[k] - p.plotTop) / p.unit]
        return [
          <XAxis key={`x${k}`} xAxisId={k} type="number" dataKey="d" hide allowDataOverflow domain={xDomain} />,
          <YAxis key={`y${k}`} yAxisId={k} type="number" hide allowDataOverflow domain={yDomain} />,
          <Area
            key={SERIES[k]}
            name={SERIES[k]}
            xAxisId={k}
            yAxisId={k}
            data={p.series[k].map(([d, v]) => ({ d, v }))}
            dataKey="v"
            type="monotone"
            baseValue={p.base}
            fill={p.colors[k]}
            fillOpacity={1}
            stroke={STROKES[k]}
            strokeWidth={2}
            dot={false}
            activeDot={false}
            isAnimationActive={false}
          />,
        ]
      })}
    </ComposedChart>
  )
}

export default function App() {
  return (
    <div style={{ position: 'absolute', left: 0, top: 0, width: 3975, height: 2904, background: '#fff', overflow: 'hidden' }}>
      {PANELS.map((p) => (
        <div key={p.letter}>
          <Frame p={p} />
          <Layers p={p} />
        </div>
      ))}
    </div>
  )
}
